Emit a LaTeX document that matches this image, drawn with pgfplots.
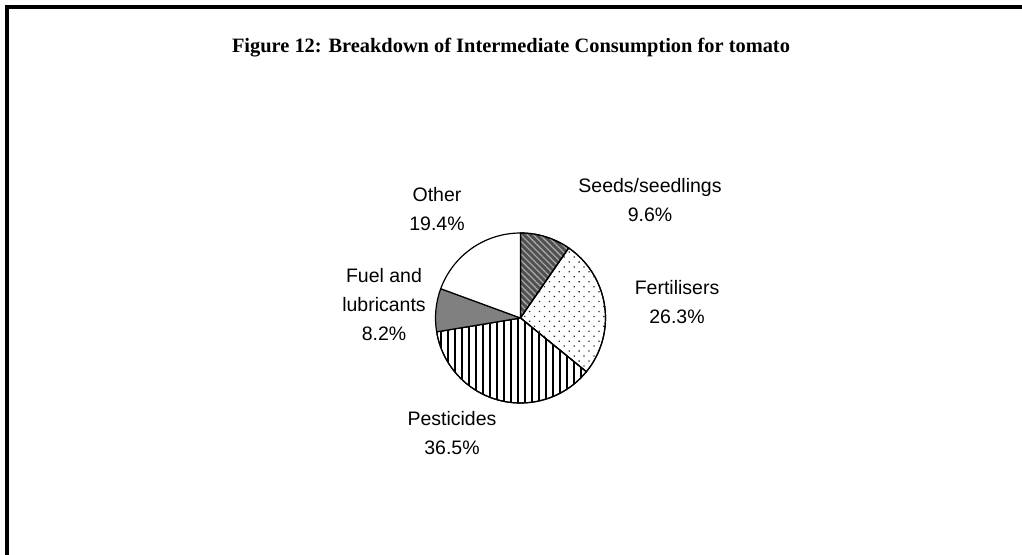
\documentclass[border=0pt]{standalone}
\usepackage{fontspec}
\setmainfont{Liberation Serif}
\newfontfamily\arial{Liberation Sans}
\usepackage{pgfplots}
\pgfplotsset{compat=1.18}
\usetikzlibrary{patterns.meta}

\definecolor{seedfill}{RGB}{80,80,80}
\definecolor{seedline}{RGB}{165,165,165}
\definecolor{fuelfill}{RGB}{128,128,128}

% pie centre and radius (1 unit = 1pt = 1px of the picture)
\def\cx{520.5}\def\cy{236}\def\rr{85}
% \slice{start percent}{percent}{style}
\newcommand\slice[3]{%
  \addplot[#3, draw=black, line width=1.2pt, line join=round] coordinates {(\cx,\cy)}
    -- ++({90-3.6*#1}:\rr pt) arc[start angle={90-3.6*#1}, delta angle={-3.6*#2}, radius=\rr pt] -- cycle;}

\begin{document}
\begin{tikzpicture}
\begin{axis}[
  x=1pt, y=1pt, xmin=0, xmax=1022, ymin=0, ymax=554,
  scale only axis, hide axis, clip=false]

% frame (right and bottom edges lie outside the picture)
\addplot[black, line width=3.8pt, line join=miter] coordinates {(7,-20) (7,547) (1040,547)};

\node[font=\bfseries\fontsize{20.4}{24}\selectfont] at (axis cs:511,506)
  {Figure 12: Breakdown of Intermediate Consumption for tomato};

% slices, clockwise from 12 o'clock
\slice{0}{9.6}{preaction={fill=seedfill}, pattern={Lines[angle=-45, distance=4.5pt, line width=1.3pt]}, pattern color=seedline}
\slice{9.6}{26.3}{preaction={fill=white}, pattern={Dots[angle=45, distance=7pt, radius=0.9pt]}, pattern color=black!85}
\slice{35.9}{36.5}{preaction={fill=white}, pattern={Lines[angle=90, distance=7pt, line width=1.1pt]}, pattern color=black}
\slice{72.4}{8.2}{fill=fuelfill}
\slice{80.6}{19.4}{fill=white}

\begin{scope}[every node/.style={font=\arial\fontsize{19.5}{29}\selectfont, align=center}]
\node at (axis cs:650,354) {Seeds/seedlings\\9.6\%};
\node at (axis cs:677,252) {Fertilisers\\26.3\%};
\node at (axis cs:452,121) {Pesticides\\36.5\%};
\node at (axis cs:384,249) {Fuel and\\lubricants\\8.2\%};
\node at (axis cs:437,345) {Other\\19.4\%};
\end{scope}
\end{axis}
\pgfresetboundingbox
\path[use as bounding box] (current axis.south west) rectangle (current axis.north east);
\end{tikzpicture}
\end{document}
